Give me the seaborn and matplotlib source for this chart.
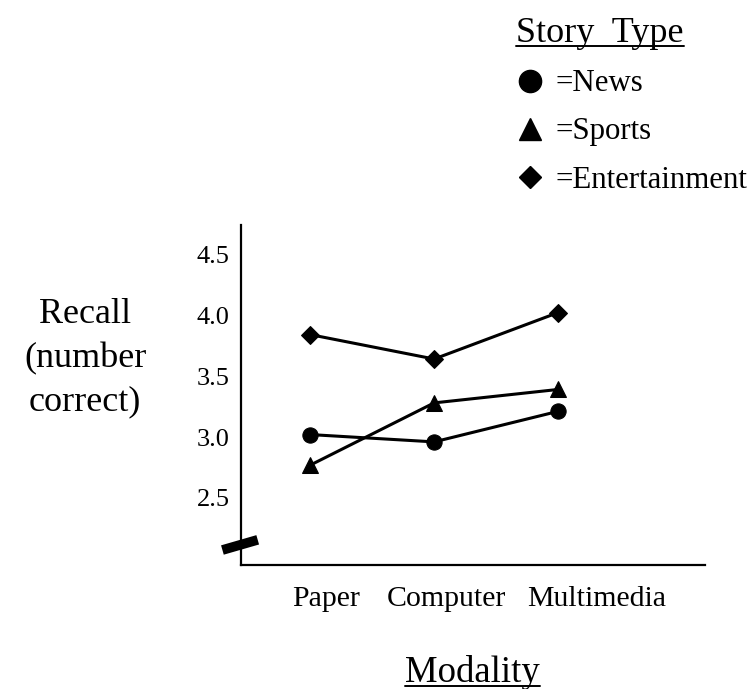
import numpy as np
import pandas as pd
import matplotlib
matplotlib.use("Agg")
import matplotlib.pyplot as plt
import seaborn as sns
from matplotlib.lines import Line2D

# values
modality = ["Paper", "Computer", "Multimedia"]
news = [3.02, 2.96, 3.21]
sports = [2.77, 3.28, 3.39]
entertainment = [3.84, 3.64, 4.02]

story_types = ["News", "Sports", "Entertainment"]
y_ticks = [2.5, 3.0, 3.5, 4.0, 4.5]

sns.set_theme(style="white")
plt.rcParams["font.family"] = ["Liberation Serif", "DejaVu Serif"]
plt.rcParams["text.color"] = "black"
plt.rcParams["xtick.color"] = "black"
plt.rcParams["ytick.color"] = "black"
plt.rcParams["xtick.labelcolor"] = "black"
plt.rcParams["ytick.labelcolor"] = "black"

df = pd.DataFrame({
    "Modality": modality * 3,
    "Recall": news + sports + entertainment,
    "Story": np.repeat(story_types, len(modality)),
})

fig = plt.figure(figsize=(7.54, 6.89), dpi=100)
ax = fig.add_axes([0.319, 0.18, 0.616, 0.4935])

markers = {"News": ("o", 11), "Sports": ("^", 12), "Entertainment": ("D", 8.7)}
for story in story_types:
    m, ms = markers[story]
    sns.lineplot(data=df[df["Story"] == story], x="Modality", y="Recall",
                 marker=m, markersize=ms, color="black", linewidth=2.2,
                 markeredgecolor="black", ax=ax, sort=False)

ax.set_xlim(-0.565, 3.19)
ax.set_ylim(1.95, 4.74)
ax.set_yticks(y_ticks)
ax.set_yticklabels([f"{v:.1f}" for v in y_ticks], fontsize=19)
ax.set_xticks([0.13, 1.10, 2.31])
ax.set_xticklabels(modality, fontsize=21.5)
ax.tick_params(axis="y", length=0, pad=8, labelcolor="black")
ax.tick_params(axis="x", length=0, pad=15, labelcolor="black")
ax.set_xlabel("")
ax.set_ylabel("")

for side in ["top", "right"]:
    ax.spines[side].set_visible(False)
for side in ["left", "bottom"]:
    ax.spines[side].set_color("black")
    ax.spines[side].set_linewidth(1.6)

# axis break mark
ax.plot([-0.039, 0.037], [0.044, 0.074], transform=ax.transAxes, color="black",
        linewidth=7, solid_capstyle="butt", clip_on=False)

fig.text(0.113, 0.48, "Recall\n(number\ncorrect)", ha="center", va="center",
         fontsize=26, linespacing=1.42, color="black")
mod_txt = fig.text(0.627, 0.024, "Modality", ha="center", va="center",
                   fontsize=26.5, color="black")

handles = [Line2D([], [], linestyle="none", marker=markers[s][0], color="black",
                  markersize=ms) for s, ms in zip(story_types, [16, 16, 11])]
leg = fig.legend(handles, ["=" + s for s in story_types], title="Story  Type",
                 loc="upper left", bbox_to_anchor=(0.685, 0.975), frameon=False,
                 fontsize=22.2, title_fontsize=26, handlelength=0.9,
                 handletextpad=0.35, labelspacing=0.62, borderaxespad=0,
                 borderpad=0, labelcolor="black")
leg.get_title().set_color("black")
leg._legend_box.align = "left"


def underline(txt):
    fig.canvas.draw()
    bb = txt.get_window_extent().transformed(fig.transFigure.inverted())
    y = bb.y0 + 0.006
    fig.add_artist(Line2D([bb.x0, bb.x1], [y, y], transform=fig.transFigure,
                          color="black", linewidth=1.4))


underline(mod_txt)
underline(leg.get_title())

fig.savefig("out.png", dpi=100)
